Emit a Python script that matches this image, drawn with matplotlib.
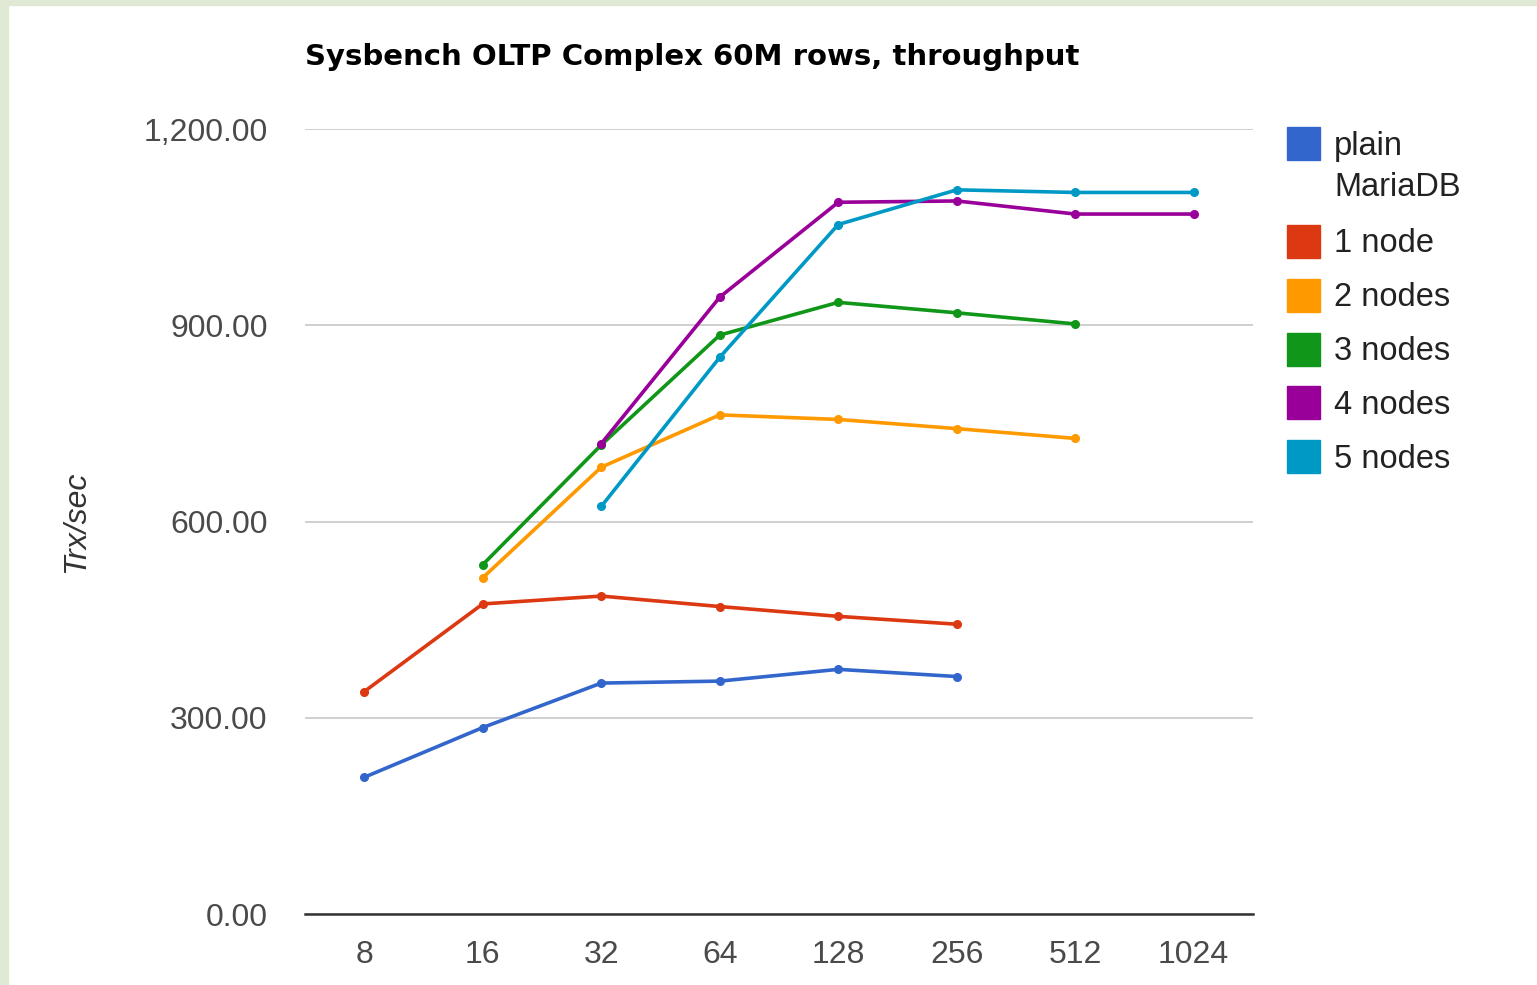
import matplotlib
matplotlib.use('Agg')
import matplotlib.pyplot as plt
from matplotlib.patches import Rectangle
from matplotlib.ticker import FuncFormatter

# threads on x, transactions per second on y
threads = ['8', '16', '32', '64', '128', '256', '512', '1024']
series_names = ['plain\nMariaDB', '1 node', '2 nodes', '3 nodes', '4 nodes', '5 nodes']
colors = ['#3366cc', '#dc3912', '#ff9900', '#109618', '#990099', '#0099c6']

plain_mariadb = [209, 285, 353, 356, 374, 363, None, None]
node_1 = [340, 474, 486, 470, 455, 443, None, None]
nodes_2 = [None, 514, 683, 763, 756, 742, 727, None]
nodes_3 = [None, 534, 717, 885, 935, 919, 902, None]
nodes_4 = [None, None, 719, 943, 1088, 1090, 1070, 1070]
nodes_5 = [None, None, 623, 851, 1054, 1107, 1103, 1103]
all_series = [plain_mariadb, node_1, nodes_2, nodes_3, nodes_4, nodes_5]

W, H = 1537, 985
fig = plt.figure(figsize=(W / 100, H / 100), dpi=100)
fig.patch.set_facecolor('white')
font = 'Liberation Sans'

# light green frame on the left and top edges
fig.patches.append(Rectangle((0, 0), 8 / W, 1, transform=fig.transFigure, color='#dfe9d3', zorder=0))
fig.patches.append(Rectangle((0, 1 - 5 / H), 1, 5 / H, transform=fig.transFigure, color='#dfe9d3', zorder=0))

ax = fig.add_axes([305 / W, (H - 914) / H, 948 / W, 785 / H])

x = list(range(len(threads)))
for vals, c in zip(all_series, colors):
    xs = [i for i, v in zip(x, vals) if v is not None]
    ys = [v for v in vals if v is not None]
    ax.plot(xs, ys, color=c, lw=2.6, marker='o', ms=5.5, zorder=3)

ax.set_xlim(-0.5, len(threads) - 0.5)
ax.set_ylim(0, 1200)
ax.set_yticks([0, 300, 600, 900, 1200])
ax.yaxis.set_major_formatter(FuncFormatter(lambda v, p: f'{v:,.2f}'))
ax.set_xticks(x)
ax.set_xticklabels(threads)
ax.grid(axis='y', color='#cccccc', lw=1.3, zorder=0)
for s in ['top', 'right', 'left']:
    ax.spines[s].set_visible(False)
ax.spines['bottom'].set_color('#333333')
ax.spines['bottom'].set_linewidth(1.8)
ax.spines['bottom'].set_zorder(4)
ax.tick_params(axis='both', length=0, labelsize=23, labelcolor='#4a4a4a')
ax.tick_params(axis='y', pad=27)
ax.tick_params(axis='x', pad=19)
for lab in ax.get_xticklabels() + ax.get_yticklabels():
    lab.set_fontfamily(font)

ax.set_ylabel('Trx/sec', fontsize=23, fontstyle='italic', color='#333333', fontfamily=font)
ax.yaxis.set_label_coords(-0.2257, 0.5)

fig.text(305 / W, 1 - 57 / H, 'Sysbench OLTP Complex 60M rows, throughput',
         fontsize=21, fontweight='bold', fontfamily='DejaVu Sans', color='#000000',
         va='center', ha='left')

# legend drawn by hand, Google Charts style
row_tops = [127, 225, 279, 333, 386, 440]
for name, c, top in zip(series_names, colors, row_tops):
    fig.patches.append(Rectangle((1287 / W, 1 - (top + 33) / H), 33 / W, 33 / H,
                                 transform=fig.transFigure, color=c))
    lines = name.split('\n')
    for k, line in enumerate(lines):
        fig.text(1334 / W, 1 - (top + 19 + 42 * k) / H, line, fontsize=23.5,
                 fontfamily=font, color='#222222', va='center', ha='left')

fig.savefig('out.png', dpi=100, facecolor='white')
